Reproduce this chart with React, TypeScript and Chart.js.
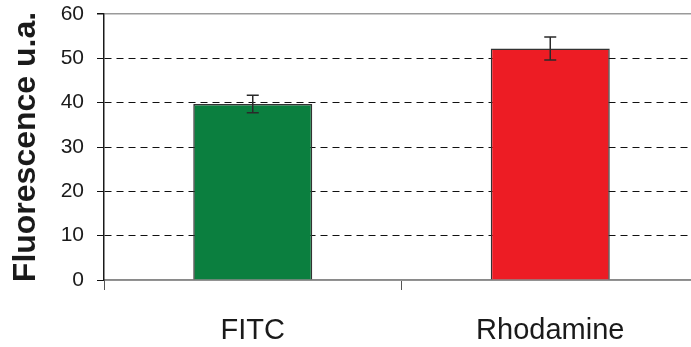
import React, { useEffect, useRef } from "react";
import { Chart, registerables } from "chart.js";

Chart.register(...registerables);

const categories = ["FITC", "Rhodamine"];
const values = [39.7, 52.2];
const errors = [2.0, 2.6];
const barColors = ["#0b7f3f", "#ed1c24"];
const yTicks = [0, 10, 20, 30, 40, 50, 60];
const yTitle = "Fluorescence u.a.";

const FONT = "'Liberation Sans', Arial, Helvetica, sans-serif";

const errorBarPlugin = {
  id: "errorBars",
  afterDatasetsDraw(chart: any) {
    const meta = chart.getDatasetMeta(0);
    const y = chart.scales.y;
    const ctx = chart.ctx;
    ctx.save();
    ctx.strokeStyle = "#2a2a2a";
    ctx.lineWidth = 1.5;
    meta.data.forEach((bar: any, i: number) => {
      const x = bar.x;
      const top = y.getPixelForValue(values[i] + errors[i]);
      const bot = y.getPixelForValue(values[i] - errors[i]);
      ctx.beginPath();
      ctx.moveTo(x, top);
      ctx.lineTo(x, bot);
      ctx.moveTo(x - 6, top);
      ctx.lineTo(x + 6, top);
      ctx.moveTo(x - 6, bot);
      ctx.lineTo(x + 6, bot);
      ctx.stroke();
    });
    ctx.restore();
  },
};

export default function App() {
  const ref = useRef<HTMLCanvasElement | null>(null);
  useEffect(() => {
    if (!ref.current) return;
    const chart = new Chart(ref.current, {
      type: "bar",
      data: {
        labels: categories,
        datasets: [
          {
            data: values,
            backgroundColor: barColors,
            borderColor: "#333333",
            borderWidth: 1.5,
            categoryPercentage: 1,
            barPercentage: 0.4,
          },
        ],
      },
      options: {
        animation: false,
        responsive: false,
        events: [],
        layout: { padding: { top: 14, right: 1, left: 0, bottom: 0 } },
        plugins: { legend: { display: false }, tooltip: { enabled: false } },
        scales: {
          x: {
            afterFit: (s: any) => {
              s.height = 67;
              s.paddingLeft = 0;
              s.paddingRight = 0;
            },
            grid: {
              offset: true,
              drawOnChartArea: false,
              drawTicks: true,
              tickLength: 10,
              tickColor: "#555",
              tickWidth: 1,
            },
            border: { display: true, color: "#8a8a8a", width: 1.5 },
            ticks: {
              color: "#1a1a1a",
              font: { family: FONT, size: 29 },
              padding: 24,
            },
          },
          y: {
            min: 0,
            max: 60,
            afterFit: (s: any) => {
              s.width = 104;
              s.paddingTop = 0;
              s.paddingBottom = 0;
            },
            afterBuildTicks: (s: any) => {
              s.ticks = yTicks.map((v) => ({ value: v }));
            },
            grid: {
              color: (c: any) =>
                c.tick && (c.tick.value === 60 || c.tick.value === 0) ? "#9a9a9a" : "#111",
              lineWidth: (c: any) => (c.tick && c.tick.value === 60 ? 1.5 : 1),
              drawTicks: true,
              tickLength: 7,
              tickColor: "#111",
              tickBorderDash: [],
            },
            border: {
              display: true,
              color: "#1a1a1a",
              width: 1.5,
              dash: (c: any) =>
                c.type === "tick" && c.tick && c.tick.value !== 60 && c.tick.value !== 0
                  ? [7, 5]
                  : [],
            },
            ticks: {
              color: "#1a1a1a",
              font: { family: FONT, size: 21 },
              padding: 13,
            },
            title: {
              display: true,
              text: yTitle,
              color: "#1a1a1a",
              font: { family: FONT, size: 32, weight: "bold" },
              padding: { top: 7, bottom: 0 },
            },
          },
        },
      },
      plugins: [errorBarPlugin],
    } as any);
    return () => chart.destroy();
  }, []);
  return (
    <div
      style={{
        position: "absolute",
        left: 0,
        top: 0,
        width: 691,
        height: 347,
        overflow: "hidden",
        background: "#fff",
      }}
    >
      <canvas ref={ref} width={700} height={347} style={{ display: "block" }} />
    </div>
  );
}
